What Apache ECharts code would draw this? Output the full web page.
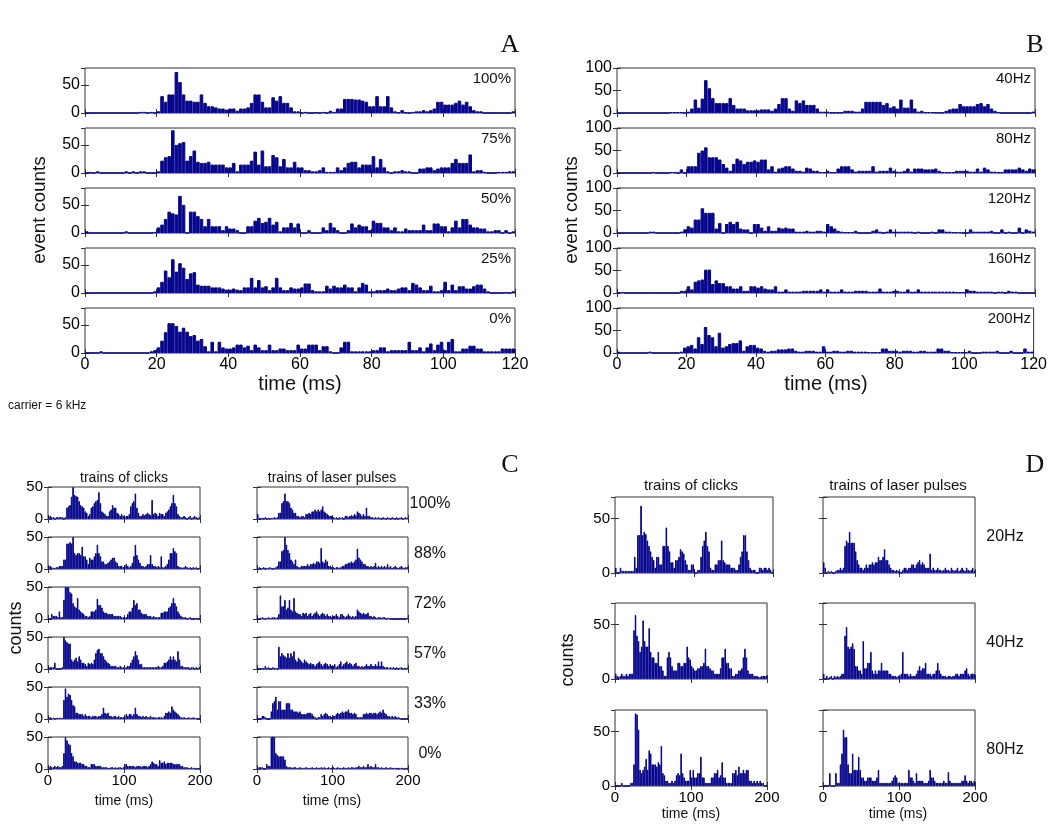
<!DOCTYPE html>
<html><head><meta charset="utf-8">
<script src="https://cdn.jsdelivr.net/npm/echarts@6/dist/echarts.min.js"></script>
<style>html,body{margin:0;padding:0;background:#fff}#c{width:1050px;height:824px}</style>
</head><body><div id="c"></div>
<script>
// ---------- DATA ----------
// Panel A: carrier 6 kHz, modulation depth; 1 ms bins, 0-120 ms
const aLevels = ['100%','75%','50%','25%','0%'];
const a100 = [0,0,0,0,0,0,0,0,0,0, 0,0,0,0,0,2,2,0,2,0, 3,30,20,33,33,73,55,33,22,22, 20,20,33,18,12,12,10,8,8,6, 8,8,4,8,8,10,18,33,33,20, 10,10,28,22,30,18,18,10,3,3, 0,2,0,0,1,0,2,0,4,2, 8,8,25,25,25,24,24,22,20,12, 12,30,12,12,30,10,3,1,5,1, 0,2,3,3,5,3,5,8,20,20, 15,15,15,18,22,15,20,12,5,3, 3,0,0,0,0,0,0,0,0,3];
const a75 = [0,1,0,3,0,0,0,0,0,0, 0,3,0,3,0,3,3,0,0,0, 3,22,28,30,76,50,53,55,22,30, 40,20,18,18,20,15,15,15,15,10, 10,18,3,15,15,15,22,38,15,40, 12,12,32,28,12,25,10,10,20,10, 10,5,5,3,3,5,10,2,2,2, 10,5,10,18,20,20,10,15,15,15, 30,10,25,10,3,0,3,3,5,3, 3,0,0,8,8,10,10,5,8,10, 10,10,18,25,18,18,18,33,3,5, 5,2,0,0,0,2,2,2,3,3];
const a50 = [3,0,0,0,0,0,0,0,0,0, 0,3,0,0,0,0,0,0,0,2, 10,15,25,38,35,33,66,50,0,38, 38,30,25,12,25,12,12,12,5,12, 8,8,5,0,0,12,12,22,27,18, 20,27,15,20,3,10,10,18,10,17, 0,0,5,0,0,0,10,5,18,10, 5,0,0,5,17,10,15,12,12,5, 22,18,18,10,10,5,10,3,3,8, 5,5,5,5,15,5,5,17,17,12, 12,3,10,22,10,25,25,15,10,10, 8,8,3,3,5,5,0,5,0,3];
const a25 = [0,0,0,0,0,0,0,0,0,0, 0,0,0,0,0,0,0,0,0,3, 10,20,40,28,60,38,53,45,25,35, 37,15,13,13,13,10,10,10,8,6, 6,8,6,5,10,10,27,10,23,10, 12,5,10,27,10,5,5,10,8,8, 10,17,17,5,3,3,3,13,8,13, 10,10,15,10,10,3,10,18,15,3, 3,5,5,5,8,5,5,8,10,10, 5,18,15,10,5,5,13,3,3,5, 20,5,15,5,12,12,8,8,12,15, 15,8,3,0,0,0,0,1,0,3];
const a0 = [0,0,0,0,3,0,0,0,0,0, 0,0,0,0,0,0,0,0,3,5, 10,22,37,53,53,48,38,45,38,30, 32,22,25,12,3,20,3,20,10,8, 8,10,15,15,10,13,5,15,10,5, 5,15,5,5,8,8,5,5,5,15, 8,8,15,15,15,5,12,12,3,0, 0,10,20,20,3,3,3,3,3,3, 5,5,10,10,3,5,5,5,5,5, 20,5,5,10,3,10,17,5,15,20, 5,20,25,3,3,8,8,13,13,8, 8,3,3,3,3,3,8,8,8,8];

// Panel B: modulation rate; 1 ms bins, 0-120 ms
const bRates = ['40Hz','80Hz','120Hz','160Hz','200Hz'];
const b40 = [0,0,0,0,0,0,0,0,0,0, 0,0,0,0,0,2,2,2,2,0, 3,10,30,12,32,73,55,33,22,22, 22,22,33,18,10,10,10,6,6,6, 6,8,8,8,5,10,20,33,33,10, 5,28,22,28,18,18,18,10,3,3, 3,1,1,1,1,5,5,5,3,3, 10,25,25,25,25,25,18,22,12,15, 10,30,12,12,30,10,3,5,2,2, 2,1,1,1,5,8,10,10,20,15, 15,15,15,20,22,15,20,10,5,2, 0,0,0,0,0,0,0,0,0,3];
const b80 = [0,0,0,0,0,0,0,0,0,0, 2,0,0,0,0,2,2,0,8,0, 15,15,15,45,50,57,35,35,35,30, 20,12,5,20,32,28,20,25,25,28, 25,30,30,8,15,3,10,12,15,15, 10,5,5,3,12,10,5,5,2,2, 5,2,2,10,15,15,15,8,3,5, 5,5,5,15,3,5,5,5,12,5, 3,3,5,10,3,10,10,10,8,8, 8,10,5,2,2,2,2,5,5,5, 5,3,3,10,3,12,8,3,3,2, 2,8,8,8,8,12,8,5,10,8];
const b120 = [0,0,0,0,0,0,0,0,0,3, 3,0,0,0,0,0,0,0,3,8, 15,12,30,30,55,45,45,45,10,22, 0,20,25,20,25,10,8,8,0,20, 20,12,5,15,5,5,12,10,12,10, 10,3,3,3,5,3,3,5,5,3, 20,15,10,5,3,2,2,2,5,0, 0,0,0,5,8,3,0,3,8,3, 3,3,3,3,3,0,3,0,0,0, 3,0,8,8,3,3,2,2,2,0, 0,8,3,3,3,3,3,5,0,0, 8,0,3,0,0,12,0,8,5,3];
const b160 = [2,2,0,0,0,0,0,0,0,0, 0,0,0,0,0,0,0,0,5,5, 15,8,25,28,30,52,52,20,28,22, 22,15,15,10,10,15,5,5,15,15, 12,15,10,8,8,15,3,3,8,3, 3,3,3,5,5,5,5,5,8,3, 8,3,3,3,8,3,3,3,5,5, 5,5,3,3,3,10,3,3,3,5, 5,3,3,8,3,3,8,3,3,3, 3,3,3,3,3,3,3,2,2,2, 8,5,5,3,3,3,3,3,0,3, 3,0,5,3,3,0,0,0,0,0];
const b200 = [3,0,0,0,0,0,0,0,0,3, 0,0,0,0,0,0,0,0,3,12, 15,18,10,35,20,58,40,35,15,45, 12,15,20,22,22,28,5,15,18,18, 12,10,5,3,5,5,8,8,8,10, 10,5,3,3,5,5,5,3,3,15, 3,3,5,5,3,3,5,5,3,3, 3,3,2,2,2,2,10,10,5,5, 5,3,5,5,5,3,3,5,5,3, 3,3,10,10,5,5,2,2,2,2, 2,5,0,0,0,3,3,3,3,5, 0,0,0,5,0,0,0,10,3,3];

// Panel C: 2 ms bins, 0-200 ms
const cLevels = ['100%','88%','72%','57%','33%','0%'];
const cClicks100 = [5,5,3,3,0,3,3,3,3,3, 0,3,18,20,22,35,50,38,36,35, 28,22,20,18,12,10,5,8,18,20, 25,28,30,42,25,12,10,8,5,5, 12,15,22,18,18,10,8,5,8,5, 3,5,5,8,20,25,28,40,18,10, 5,5,8,6,8,10,8,6,30,8, 10,8,5,10,8,8,5,10,12,15, 20,25,38,25,20,8,5,3,3,5, 3,0,3,5,0,3,5,3,0,3];
const cClicks88 = [5,5,3,2,2,3,3,5,5,5, 15,15,40,40,42,40,50,25,22,25, 25,22,35,20,20,15,8,18,15,15, 20,25,38,25,20,12,12,8,8,10, 12,15,18,18,12,10,5,5,5,3, 5,8,5,3,5,10,20,38,22,15, 10,5,5,3,5,8,8,22,8,5, 5,3,5,3,20,3,3,5,8,15, 25,25,33,28,25,5,3,3,2,3, 5,3,2,3,0,3,2,3,0,2];
const cClicks72 = [0,0,8,5,5,5,3,12,3,3, 30,50,50,50,42,40,25,20,18,33, 15,12,10,8,5,5,3,5,12,12, 12,15,32,22,22,18,12,10,10,8, 8,8,8,5,5,5,5,5,3,3, 3,3,8,12,12,18,30,22,25,15, 15,10,8,8,8,5,5,5,3,5, 3,3,3,3,10,10,12,12,12,18, 20,25,33,25,20,12,8,5,3,3, 3,0,2,3,0,0,0,2,0,0];
const cClicks57 = [3,3,3,3,10,0,0,0,0,3, 50,45,42,40,40,15,12,15,18,12, 20,15,10,10,8,5,10,8,10,8, 15,25,30,32,25,25,20,15,12,10, 8,5,5,5,5,3,3,5,3,3, 3,3,5,5,10,15,20,28,22,15, 8,8,3,3,3,3,3,3,3,3, 3,3,5,3,3,5,10,10,12,15, 20,15,20,15,12,28,15,5,5,3, 3,3,3,0,3,3,0,3,0,3];
const cClicks33 = [3,3,2,2,0,2,2,2,2,2, 30,48,35,40,38,30,22,20,10,10, 8,8,8,5,8,5,5,5,3,5, 5,5,3,5,5,8,18,10,8,10, 5,5,3,5,5,3,5,3,3,3, 3,8,5,8,8,5,8,18,8,5, 5,3,5,3,5,3,3,5,3,3, 3,2,3,3,3,2,5,10,10,12, 10,20,15,12,10,8,5,3,2,3, 2,2,3,2,2,3,2,2,0,0];
const cClicks0 = [3,5,3,3,5,3,5,3,3,5, 25,50,45,40,38,25,20,12,12,10, 10,10,8,8,5,5,3,3,8,8, 8,5,5,5,5,3,3,3,3,2, 2,3,3,2,3,2,3,3,2,3, 8,8,5,5,5,5,5,3,5,5, 5,3,5,5,5,3,5,8,12,10, 8,8,5,14,10,10,12,8,10,10, 10,10,8,8,8,8,8,5,5,3, 3,3,2,2,3,2,2,0,2,0];
const cLaser100 = [8,2,0,2,0,3,0,2,0,2, 2,3,2,3,10,10,25,28,40,28, 28,25,18,15,10,10,5,5,3,5, 5,3,8,8,10,8,12,12,15,12, 15,12,15,20,12,10,8,6,5,5, 3,2,3,0,3,2,3,0,5,5, 3,5,6,5,8,6,12,10,8,5, 8,5,18,5,5,3,3,2,3,2, 3,2,0,3,2,0,3,2,0,3, 2,0,3,0,2,3,0,2,3,2];
const cLaser88 = [2,3,0,2,3,0,2,2,3,2, 0,2,3,5,12,12,28,30,50,38, 30,25,15,12,8,15,5,3,3,5, 5,5,5,8,5,8,8,10,8,12, 12,10,33,12,10,15,12,5,5,3, 3,2,3,3,2,3,5,5,8,8, 10,10,12,10,12,15,32,18,15,12, 8,8,5,5,3,5,3,5,10,3, 5,3,5,3,5,3,8,3,5,2, 3,5,3,2,3,5,3,2,3,3];
const cLaser72 = [2,0,2,3,2,0,2,3,2,2, 3,3,2,3,8,37,20,20,30,15, 18,30,15,12,33,12,10,8,8,5, 10,8,10,5,8,10,5,8,10,12, 8,5,8,10,8,5,8,5,5,3, 5,5,8,5,3,8,8,5,3,5, 8,5,3,5,3,5,15,12,10,8, 10,8,8,10,5,5,3,5,3,2, 3,3,2,3,3,0,2,2,0,0, 0,0,0,0,0,0,0,0,0,2];
const cLaser57 = [0,0,0,2,0,5,0,3,0,0, 3,0,2,0,35,20,25,22,20,18, 25,18,25,20,28,15,12,18,15,12, 10,15,12,10,8,10,8,8,5,8, 10,12,8,5,8,10,8,5,8,5, 5,8,3,5,8,12,5,8,10,12, 8,10,8,5,8,10,5,5,3,5, 3,5,8,5,5,8,5,5,8,5, 12,5,12,5,3,3,3,2,3,2, 3,0,3,0,2,3,0,2,0,2];
const cLaser33 = [0,0,0,5,5,3,0,0,0,12, 25,28,35,15,28,28,15,15,15,25, 25,25,15,15,12,12,12,10,12,8, 8,8,8,10,10,10,8,5,3,0, 3,3,8,5,8,10,8,5,5,3, 5,5,8,10,8,10,12,10,12,12, 15,10,10,8,10,8,3,3,3,3, 8,8,10,8,10,10,8,10,10,8, 10,12,10,15,10,8,5,5,3,5, 3,5,3,3,2,0,0,0,0,0];
const cLaser0 = [3,3,3,3,0,0,8,5,5,50, 52,50,25,22,20,20,20,20,15,5, 3,3,3,2,3,3,2,2,3,2, 2,2,3,2,2,2,3,2,2,3, 2,2,3,2,3,2,2,3,2,2, 3,2,2,3,2,2,2,3,2,2, 3,2,3,3,2,3,3,5,3,3, 5,3,3,8,3,5,3,3,8,3, 3,2,3,2,2,3,2,2,3,2, 2,2,2,0,2,2,2,0,2,0];

// Panel D: 2 ms bins, 0-200 ms
const dRates = ['20Hz','40Hz','80Hz'];
const dClicks20 = [5,0,0,5,2,2,2,2,2,2, 2,2,15,5,35,35,62,35,38,36, 30,25,20,15,12,5,15,15,8,8, 25,25,42,25,20,10,10,5,12,12, 15,22,20,18,12,8,3,3,8,8, 0,0,3,3,15,25,30,38,25,20, 5,3,3,8,8,12,12,30,12,10, 8,8,8,5,5,5,3,3,8,15, 20,35,35,20,12,5,3,3,3,0, 0,5,5,3,5,5,3,5,3,0];
const dClicks40 = [5,3,2,3,5,3,3,5,3,5, 5,5,45,59,40,35,25,30,54,35, 30,30,47,25,20,20,15,15,25,12, 12,8,3,3,20,25,20,12,8,8, 8,15,15,12,12,15,15,30,20,18, 12,10,8,8,10,10,12,12,15,28, 12,12,10,8,8,5,5,5,5,10, 20,20,28,15,15,10,10,3,3,5, 5,8,8,10,20,28,20,8,5,5, 5,3,3,3,2,2,3,3,3,3];
const dClicks80 = [0,0,0,0,3,0,0,0,0,0, 3,3,20,67,66,52,15,12,15,18, 25,15,33,30,20,20,20,18,22,20, 37,12,10,5,5,3,3,5,3,5, 10,12,10,30,12,8,5,5,5,15, 8,15,8,8,12,12,27,8,8,3, 3,3,3,8,8,12,12,15,8,10, 22,8,8,3,3,3,3,12,12,15, 10,18,12,12,15,12,15,15,5,5, 3,5,3,5,3,5,3,3,0,0];
const dLaser20 = [10,5,0,2,0,2,0,0,2,3, 3,5,3,5,25,30,28,38,28,28, 28,20,12,8,5,5,3,5,8,5, 8,8,10,8,10,10,15,12,12,15, 22,12,12,8,5,3,3,2,3,2, 2,0,3,5,5,3,5,5,8,8, 5,8,10,12,8,10,8,5,5,5, 18,3,5,3,3,5,3,3,2,3, 5,3,3,2,5,3,2,3,5,2, 3,5,3,2,5,3,2,3,5,2];
const dLaser40 = [5,0,3,0,2,3,0,3,2,3, 2,3,5,5,40,48,30,28,30,33, 28,12,12,8,8,5,35,10,10,15, 15,25,8,5,8,5,8,8,15,8, 8,8,8,5,5,3,3,3,2,3, 3,5,25,5,5,5,3,5,3,3, 3,5,8,12,8,10,10,15,5,5, 5,3,5,5,8,15,8,5,3,3, 3,2,3,3,2,3,3,5,5,3, 5,5,5,8,10,5,3,5,5,5];
const dLaser80 = [0,0,0,0,12,0,0,0,12,3, 3,20,30,52,45,45,20,12,12,30, 15,15,15,27,15,8,8,5,5,8, 8,8,5,5,5,8,15,3,3,3, 3,3,3,3,3,5,8,10,8,3, 3,3,3,3,3,3,15,8,8,5, 3,12,5,5,5,5,3,3,3,5, 15,8,8,5,3,3,3,3,3,5, 3,3,13,5,3,3,3,3,3,3, 3,5,5,10,5,3,5,5,3,5];

// axis settings (values only)
const abTime = {max:120, step:20};
const cdTime = {max:200, step:100};

// ---------- BUILD ----------
const FONT = 'Liberation Sans';
const SERIF = 'Liberation Serif';
const BAR = '#06068c';
const INK = '#111';
const option = {animation:false, backgroundColor:'#ffffff', grid:[], xAxis:[], yAxis:[], series:[], graphic:[]};

function addPlot(p){
  const g = option.grid.length;
  option.grid.push({left:p.left, top:p.top, width:p.width, height:p.height, show:true, borderColor:'#333', borderWidth:1, backgroundColor:'rgba(0,0,0,0)'});
  const tick = {show:true, inside:true, length:4, lineStyle:{color:'#333', width:1}};
  const xi = option.xAxis.length;
  option.xAxis.push({gridIndex:g, type:'value', min:0, max:p.xMax, interval:p.xStep, position:'bottom',
    axisLine:{show:false}, axisTick:tick, splitLine:{show:false},
    axisLabel:{show:!!p.xLabels, color:'#000', fontSize:p.fs, fontFamily:FONT, margin:4}});
  option.xAxis.push({gridIndex:g, type:'value', min:0, max:p.xMax, interval:p.xStep, position:'top',
    axisLine:{show:false}, axisTick:tick, splitLine:{show:false}, axisLabel:{show:false}});
  option.xAxis.push({gridIndex:g, type:'category', data:p.data.map((_, i) => i), show:false, boundaryGap:true});
  const yi = option.yAxis.length;
  option.yAxis.push({gridIndex:g, type:'value', min:0, max:p.yMax, interval:p.yStep, position:'left',
    axisLine:{show:false}, axisTick:tick, splitLine:{show:false},
    axisLabel:{show:p.yLabels !== false, color:'#000', fontSize:p.fs, fontFamily:FONT, margin:5, showMaxLabel:p.showMax, showMinLabel:true}});
  option.yAxis.push({gridIndex:g, type:'value', min:0, max:p.yMax, interval:p.yStep, position:'right',
    axisLine:{show:false}, axisTick:tick, splitLine:{show:false}, axisLabel:{show:false}});
  option.series.push({type:'bar', xAxisIndex:xi+2, yAxisIndex:yi, data:p.data, barCategoryGap:'0%', barGap:'0%',
    itemStyle:{color:BAR, borderColor:BAR, borderWidth:1}, silent:true, clip:true});
}
function txt(x, y, s, size, opts){
  opts = opts || {};
  option.graphic.push({type:'text', x:x, y:y, rotation:opts.rot || 0, silent:true,
    style:{text:s, font:(opts.weight||'normal')+' '+size+'px "'+(opts.family||FONT)+'"', fill:opts.fill||INK,
      textAlign:opts.align||'center', textVerticalAlign:opts.valign||'middle'}});
}

// Panel A
const aData = [a100, a75, a50, a25, a0];
const abTops = [68, 128, 188, 248, 308], abH = 45;
aData.forEach((d, i) => {
  addPlot({left:85, top:abTops[i], width:430, height:abH, data:d, xMax:abTime.max, xStep:abTime.step,
    yMax:80, yStep:50, showMax:false, xLabels:i===4, fs:16});
  txt(511, abTops[i]+11, aLevels[i], 15, {align:'right'});
});
txt(300, 384, 'time (ms)', 20);
txt(40, 210, 'event counts', 19, {rot:Math.PI/2});
txt(8, 406, 'carrier = 6 kHz', 12, {align:'left'});
txt(510, 45, 'A', 26, {family:SERIF});

// Panel B
const bData = [b40, b80, b120, b160, b200];
bData.forEach((d, i) => {
  addPlot({left:617, top:abTops[i], width:418, height:abH, data:d, xMax:abTime.max, xStep:abTime.step,
    yMax:100, yStep:50, showMax:true, xLabels:i===4, fs:16});
  txt(1031, abTops[i]+11, bRates[i], 15, {align:'right'});
});
txt(826, 384, 'time (ms)', 20);
txt(572, 210, 'event counts', 19, {rot:Math.PI/2});
txt(1035, 45, 'B', 26, {family:SERIF});

// Panel C
const cClicks = [cClicks100, cClicks88, cClicks72, cClicks57, cClicks33, cClicks0];
const cLaser = [cLaser100, cLaser88, cLaser72, cLaser57, cLaser33, cLaser0];
const cTops = [487, 537, 587, 637, 687, 737], cH = 32;
cClicks.forEach((d, i) => {
  addPlot({left:48, top:cTops[i], width:152, height:cH, data:d, xMax:cdTime.max, xStep:cdTime.step,
    yMax:50, yStep:50, showMax:true, xLabels:i===5, fs:15});
  addPlot({left:257, top:cTops[i], width:151, height:cH, data:cLaser[i], xMax:cdTime.max, xStep:cdTime.step,
    yMax:50, yStep:50, showMax:false, yLabels:false, xLabels:i===5, fs:15});
  txt(430, cTops[i]+17, cLevels[i], 16);
});
txt(124, 478, 'trains of clicks', 14);
txt(332, 478, 'trains of laser pulses', 14);
txt(124, 801, 'time (ms)', 14);
txt(332, 801, 'time (ms)', 14);
txt(16, 628, 'counts', 18, {rot:Math.PI/2});
txt(510, 465, 'C', 26, {family:SERIF});

// Panel D
const dClicks = [dClicks20, dClicks40, dClicks80];
const dLaser = [dLaser20, dLaser40, dLaser80];
const dTops = [497, 603, 710], dH = 76;
const dLeftW = [158, 152, 152];
dClicks.forEach((d, i) => {
  addPlot({left:615, top:dTops[i], width:dLeftW[i], height:dH, data:d, xMax:cdTime.max, xStep:cdTime.step,
    yMax:70, yStep:50, showMax:false, xLabels:i===2, fs:15});
  addPlot({left:823, top:dTops[i], width:152, height:dH, data:dLaser[i], xMax:cdTime.max, xStep:cdTime.step,
    yMax:70, yStep:50, showMax:false, yLabels:false, xLabels:i===2, fs:15});
  txt(1005, dTops[i]+40, dRates[i], 16);
});
txt(691, 486, 'trains of clicks', 15);
txt(898, 486, 'trains of laser pulses', 15);
txt(691, 814, 'time (ms)', 14);
txt(898, 814, 'time (ms)', 14);
txt(568, 660, 'counts', 18, {rot:Math.PI/2});
txt(1035, 465, 'D', 26, {family:SERIF});

const chart = echarts.init(document.getElementById('c'), null, {renderer:'canvas'});
chart.setOption(option);
</script>
</body></html>
